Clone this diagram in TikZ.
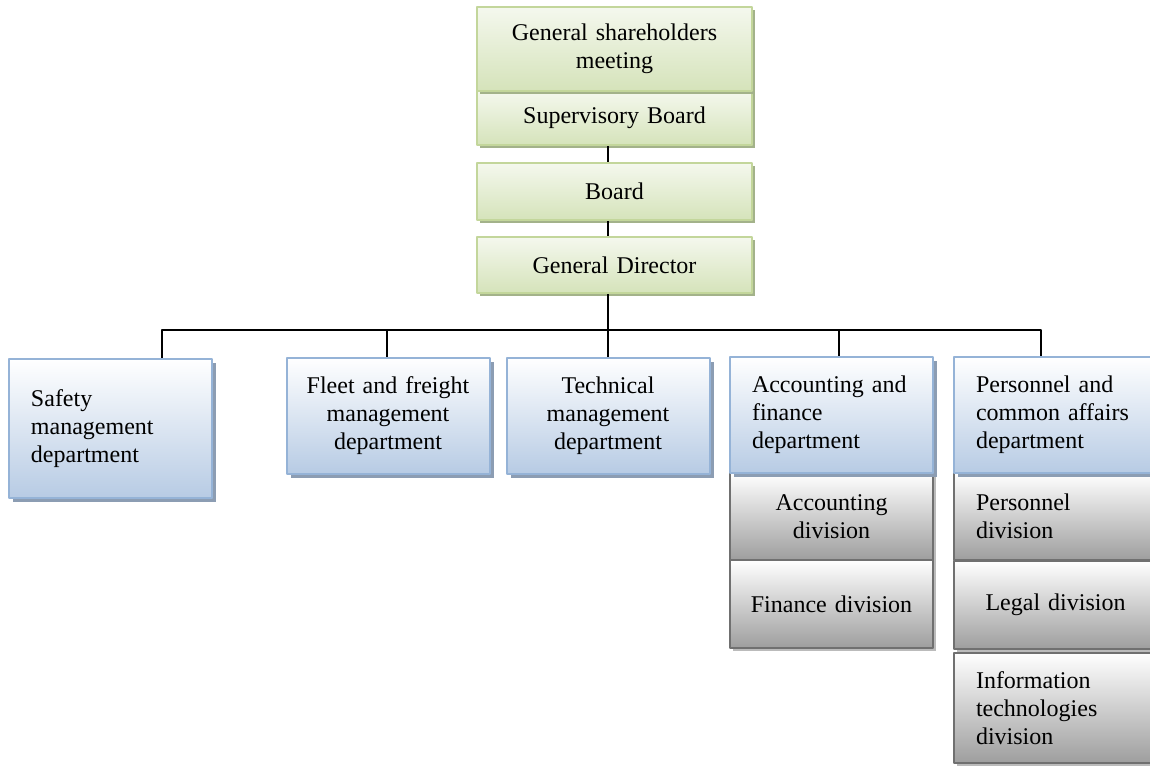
\documentclass[tikz,border=0pt]{standalone}
\usepackage{fontspec}
\setmainfont{Liberation Serif}
\usetikzlibrary{shadows}

\definecolor{greenline}{HTML}{C3D69B}
\definecolor{greenfill}{HTML}{D5E3BA}
\definecolor{greenshadow}{HTML}{A3B28A}
\definecolor{blueline}{HTML}{95B3D7}
\definecolor{bluefill}{HTML}{B7CBE4}
\definecolor{blueshadow}{HTML}{8C9DB3}
\definecolor{grayline}{HTML}{707070}
\definecolor{grayfill}{HTML}{9E9E9E}
\definecolor{grayshadow}{HTML}{BBBBBB}

\tikzset{
	unit/.style={rectangle, draw, line width=1pt, inner ysep=0pt, font=\fontsize{12}{14}\selectfont},
	greenbox/.style={unit, draw=greenline, top color=greenfill!25, bottom color=greenfill,
		minimum width=137.5pt, text width=133pt, inner xsep=2pt, align=center,
		drop shadow={shadow xshift=1.5pt, shadow yshift=-1.5pt, fill=greenshadow, opacity=1}},
	bluebox/.style={unit, draw=blueline, top color=white, bottom color=bluefill, minimum width=101.5pt,
		drop shadow={shadow xshift=2pt, shadow yshift=-2pt, fill=blueshadow, opacity=1}},
	graybox/.style={unit, draw=grayline, top color=white, bottom color=grayfill, minimum width=101.5pt,
		drop shadow={shadow xshift=1.5pt, shadow yshift=-1.5pt, fill=grayshadow, opacity=1}},
	lefttext/.style={inner xsep=11pt, text width=79.5pt, align=left},
	midtext/.style={inner xsep=2pt, text width=97.5pt, align=center},
	link/.style={line width=0.8pt, black}
}

\begin{document}
\begin{tikzpicture}[x=0.5pt, y=-0.5pt, line join=round]
	\useasboundingbox (0,0) rectangle (1150,765);
	\clip (0,0) rectangle (1150,765);
	% top of the company
	\node[greenbox, minimum height=27pt] (sup) at (614.5,118) {Supervisory Board};
	\node[greenbox, minimum height=42pt] (gsm) at (614.5,49) {General shareholders\\ meeting};
	\node[greenbox, minimum height=28.5pt] (board) at (614.5,191.5) {Board};
	\node[greenbox, minimum height=28pt] (gd) at (614.5,265) {General Director};
	\coordinate (bus) at (608,330);
	\draw[link] (sup.south -| bus) -- (board.north -| bus);
	\draw[link] (board.south -| bus) -- (gd.north -| bus);
	\draw[link] (gd.south -| bus) -- (bus);
	% departments
	\node[bluebox, lefttext, minimum height=69.5pt] (safety) at (110.5,428.5) {Safety\\ management\\ department};
	\node[bluebox, midtext, minimum height=58pt] (fleet) at (388,415.5) {Fleet and freight\\ management\\ department};
	\node[bluebox, midtext, minimum height=58pt] (tech) at (608,415.5) {Technical\\ management\\ department};
	% accounting and finance
	\node[graybox, midtext, minimum height=43.5pt] (accdiv) at (831.5,516.5) {Accounting\\ division};
	\node[graybox, midtext, minimum height=44pt] (findiv) at (831.5,604) {Finance division};
	\node[bluebox, lefttext, minimum height=58pt] (acc) at (831.5,415) {Accounting and\\ finance\\ department};
	% personnel and common affairs
	\node[graybox, lefttext, minimum height=43.5pt] (persdiv) at (1055.5,516.5) {Personnel\\ division};
	\node[graybox, midtext, minimum height=44pt] (legal) at (1055.5,605) {Legal division};
	\node[graybox, lefttext, minimum height=55pt] (itdiv) at (1055.5,708) {Information\\ technologies\\ division};
	\node[bluebox, lefttext, minimum height=58pt] (pers) at (1055.5,415) {Personnel and\\ common affairs\\ department};
	% links from the director
	\foreach \d/\x in {safety/162, fleet/387, tech/608, acc/839, pers/1041}{
		\coordinate (\d-top) at (\x,330);
		\draw[link] (bus) -- (\d-top) -- (\d-top |- \d.north);
	}
\end{tikzpicture}
\end{document}
